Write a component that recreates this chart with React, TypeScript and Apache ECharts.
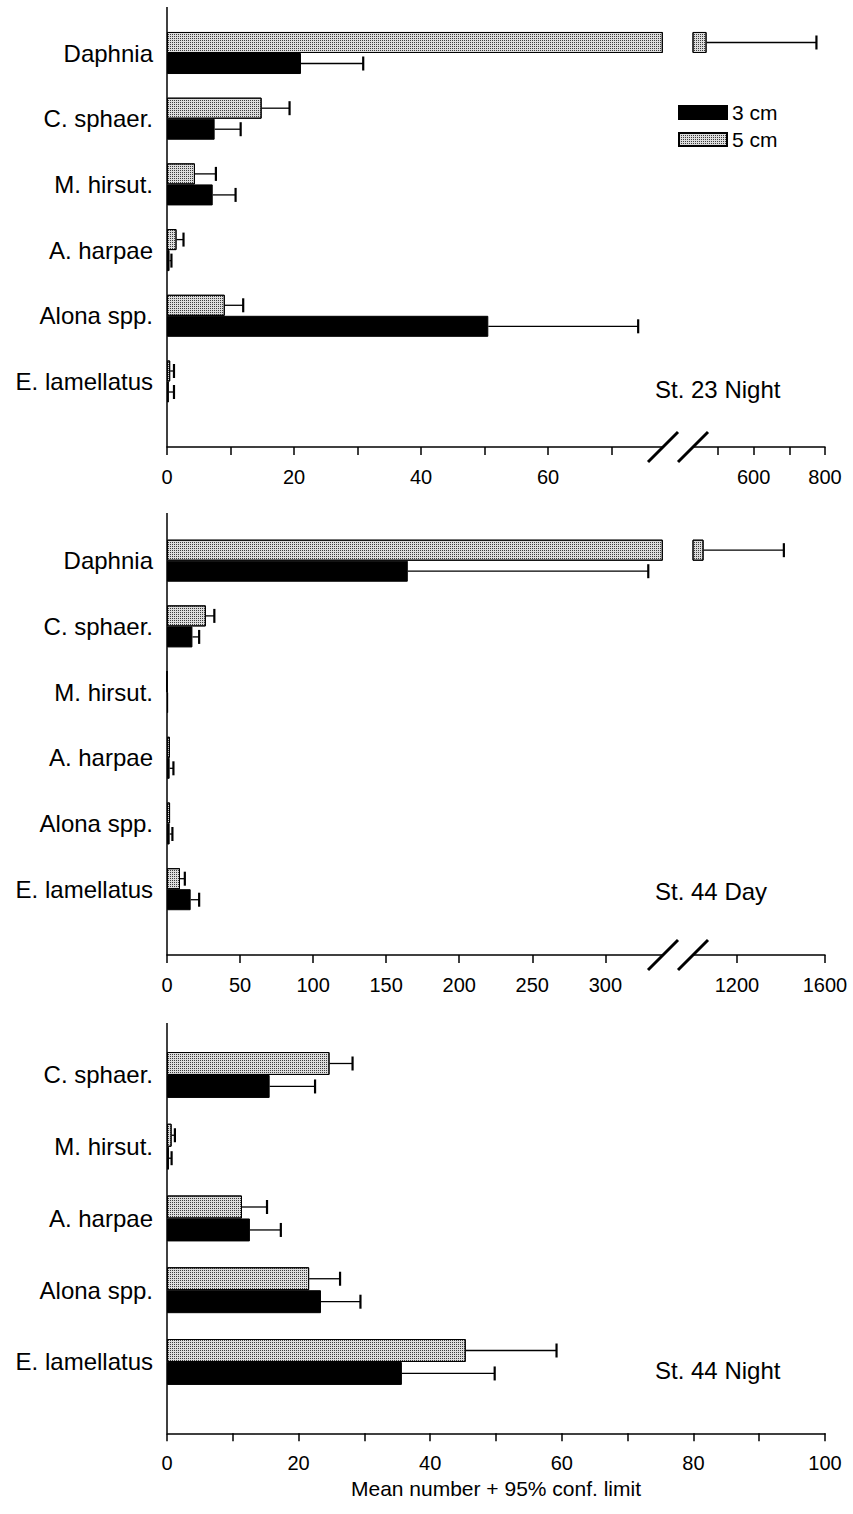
import React, { useEffect, useRef } from 'react';
import * as echarts from 'echarts';

// ---------------- DATA ----------------
const CATEGORIES_FULL = ['Daphnia', 'C. sphaer.', 'M. hirsut.', 'A. harpae', 'Alona spp.', 'E. lamellatus'];
const CATEGORIES_NIGHT44 = ['C. sphaer.', 'M. hirsut.', 'A. harpae', 'Alona spp.', 'E. lamellatus'];

const SERIES_3CM = '3 cm';
const SERIES_5CM = '5 cm';

// St. 23 Night
const ST23N_MEAN_5CM = [468, 14.9, 4.4, 1.5, 9.1, 0.5];
const ST23N_CI_5CM = [776, 19.3, 7.7, 2.6, 12.0, 1.1];
const ST23N_MEAN_3CM = [21.1, 7.5, 7.2, 0.4, 50.6, 0.3];
const ST23N_CI_3CM = [30.9, 11.6, 10.8, 0.7, 74.2, 1.1];
const ST23N_LOW_RANGE = [0, 78];
const ST23N_HIGH_RANGE = [430, 800];
const ST23N_LOW_TICKS = [0, 10, 20, 30, 40, 50, 60, 70];
const ST23N_LOW_LABELS = [0, 20, 40, 60];
const ST23N_HIGH_TICKS = [500, 600, 700, 800];
const ST23N_HIGH_LABELS = [600, 800];

// St. 44 Day
const ST44D_MEAN_5CM = [1048, 26.6, 0, 2.0, 2.1, 8.9];
const ST44D_CI_5CM = [1413, 32.4, 0, 2.0, 2.1, 12.2];
const ST44D_MEAN_3CM = [164.8, 17.4, 0.8, 1.8, 1.8, 16.2];
const ST44D_CI_3CM = [329.4, 22.0, 0.8, 4.4, 3.7, 22.0];
const ST44D_LOW_RANGE = [0, 339];
const ST44D_HIGH_RANGE = [1000, 1600];
const ST44D_LOW_TICKS = [0, 50, 100, 150, 200, 250, 300];
const ST44D_LOW_LABELS = [0, 50, 100, 150, 200, 250, 300];
const ST44D_HIGH_TICKS = [1200, 1600];
const ST44D_HIGH_LABELS = [1200, 1600];

// St. 44 Night
const ST44N_MEAN_5CM = [24.7, 0.7, 11.4, 21.6, 45.4];
const ST44N_CI_5CM = [28.2, 1.2, 15.2, 26.3, 59.2];
const ST44N_MEAN_3CM = [15.6, 0.3, 12.6, 23.4, 35.7];
const ST44N_CI_3CM = [22.5, 0.7, 17.3, 29.4, 49.8];
const ST44N_RANGE = [0, 100];
const ST44N_TICKS = [0, 10, 20, 30, 40, 50, 60, 70, 80, 90, 100];
const ST44N_LABELS = [0, 20, 40, 60, 80, 100];

const X_AXIS_TITLE = 'Mean number + 95% conf. limit';

// ---------------- LAYOUT / STYLE ----------------
const FONT = '"Liberation Sans", Arial, Helvetica, sans-serif';
const X0 = 167;
const LOW_W = 495.3;
const HIGH_X = 693;
const X1 = 825;

const DOT_FILL = {
  color: '#dcdcdc',
  borderColor: '#000',
  borderWidth: 1,
  decal: {
    symbol: 'rect',
    symbolSize: 1,
    dashArrayX: [1, 1],
    dashArrayY: [1, 1],
    color: '#3c3c3c',
    rotation: 0,
  },
};
const BLACK_FILL = { color: '#000', borderColor: '#000', borderWidth: 1 };

type Panel = {
  cats: string[];
  m5: number[]; c5: number[]; m3: number[]; c3: number[];
  low: number[]; lowTicks: number[]; lowLabels: number[];
  high?: number[]; highTicks?: number[]; highLabels?: number[];
  bandTop: number; band: number; axisTop: number; axisY: number;
  title: string; titleY: number; xName?: string;
};

const PANELS: Panel[] = [
  {
    cats: CATEGORIES_FULL, m5: ST23N_MEAN_5CM, c5: ST23N_CI_5CM, m3: ST23N_MEAN_3CM, c3: ST23N_CI_3CM,
    low: ST23N_LOW_RANGE, lowTicks: ST23N_LOW_TICKS, lowLabels: ST23N_LOW_LABELS,
    high: ST23N_HIGH_RANGE, highTicks: ST23N_HIGH_TICKS, highLabels: ST23N_HIGH_LABELS,
    bandTop: 20.15, band: 65.7, axisTop: 7, axisY: 447, title: 'St. 23 Night', titleY: 389,
  },
  {
    cats: CATEGORIES_FULL, m5: ST44D_MEAN_5CM, c5: ST44D_CI_5CM, m3: ST44D_MEAN_3CM, c3: ST44D_CI_3CM,
    low: ST44D_LOW_RANGE, lowTicks: ST44D_LOW_TICKS, lowLabels: ST44D_LOW_LABELS,
    high: ST44D_HIGH_RANGE, highTicks: ST44D_HIGH_TICKS, highLabels: ST44D_HIGH_LABELS,
    bandTop: 527.85, band: 65.7, axisTop: 513, axisY: 955, title: 'St. 44 Day', titleY: 891,
  },
  {
    cats: CATEGORIES_NIGHT44, m5: ST44N_MEAN_5CM, c5: ST44N_CI_5CM, m3: ST44N_MEAN_3CM, c3: ST44N_CI_3CM,
    low: ST44N_RANGE, lowTicks: ST44N_TICKS, lowLabels: ST44N_LABELS,
    bandTop: 1039.1, band: 71.75, axisTop: 1023, axisY: 1433.3, title: 'St. 44 Night', titleY: 1370,
    xName: X_AXIS_TITLE,
  },
];

function renderError(params: any, api: any) {
  const cat = api.value(0);
  const lo = api.value(1);
  const hi = api.value(2);
  const sign = api.value(3);
  const p0 = api.coord([lo, cat]);
  const p1 = api.coord([hi, cat]);
  const band = api.size([0, 1])[1];
  const y = p0[1] + sign * band * 0.16;
  return {
    type: 'group',
    children: [
      { type: 'line', shape: { x1: p0[0], y1: y, x2: p1[0], y2: y }, style: { stroke: '#000', lineWidth: 1.3 } },
      { type: 'line', shape: { x1: p1[0], y1: y - 7, x2: p1[0], y2: y + 7 }, style: { stroke: '#000', lineWidth: 2.2 } },
    ],
  };
}

function buildOption() {
  const grid: any[] = [];
  const xAxis: any[] = [];
  const yAxis: any[] = [];
  const series: any[] = [];
  const graphic: any[] = [];

  PANELS.forEach((p) => {
    const nBands = p.cats.length + 1;
    const height = p.band * nBands;
    const offset = p.axisY - (p.bandTop + height);
    const segs: any[] = [];
    if (p.high) {
      segs.push({ x: X0, w: LOW_W, range: p.low, ticks: p.lowTicks, labels: p.lowLabels, part: 'low' });
      segs.push({ x: HIGH_X, w: X1 - HIGH_X, range: p.high, ticks: p.highTicks, labels: p.highLabels, part: 'high' });
    } else {
      segs.push({ x: X0, w: X1 - X0, range: p.low, ticks: p.lowTicks, labels: p.lowLabels, part: 'single', name: p.xName });
    }
    segs.forEach((s) => {
      const gi = grid.length;
      grid.push({ left: s.x, top: p.bandTop, width: s.w, height, outerBoundsMode: 'none', containLabel: false });
      xAxis.push({
        type: 'value', gridIndex: gi, min: s.range[0], max: s.range[1], position: 'bottom', offset,
        axisLine: { show: true, onZero: false, lineStyle: { color: '#000', width: 1.5 } },
        axisTick: { show: true, length: 8, customValues: s.ticks, lineStyle: { color: '#000', width: 1.5 } },
        axisLabel: {
          customValues: s.labels, color: '#000', fontSize: 20, margin: 20, fontFamily: FONT,
          formatter: (v: number) => String(v),
        },
        splitLine: { show: false },
        name: s.name || '', nameLocation: 'middle', nameGap: 45,
        nameTextStyle: { color: '#000', fontSize: 21, fontFamily: FONT },
      });
      yAxis.push({
        type: 'category', gridIndex: gi, data: [...p.cats, ''], inverse: true,
        axisLine: { show: false }, axisTick: { show: false }, splitLine: { show: false },
        axisLabel: { show: s.part !== 'high', color: '#000', fontSize: 24, margin: 14, fontFamily: FONT },
      });
      const pick = (v: number) => (s.part === 'high' ? (v > p.low[1] ? v : '-') : v);
      series.push({
        type: 'bar', name: SERIES_5CM, xAxisIndex: gi, yAxisIndex: gi, barWidth: '32%', barGap: '0%',
        clip: true, itemStyle: DOT_FILL, data: p.m5.map(pick),
      });
      series.push({
        type: 'bar', name: SERIES_3CM, xAxisIndex: gi, yAxisIndex: gi, barWidth: '32%', barGap: '0%',
        clip: true, itemStyle: BLACK_FILL, data: p.m3.map(pick),
      });
      const errs: number[][] = [];
      const addErr = (means: number[], cis: number[], sign: number) => {
        means.forEach((m, i) => {
          const c = cis[i];
          if (!(c > m)) return;
          if (s.part === 'high') {
            if (m >= s.range[0]) errs.push([i, m, c, sign]);
          } else if (c <= s.range[1]) {
            errs.push([i, m, c, sign]);
          }
        });
      };
      addErr(p.m5, p.c5, -1);
      addErr(p.m3, p.c3, 1);
      series.push({
        type: 'custom', name: 'err', xAxisIndex: gi, yAxisIndex: gi, renderItem: renderError,
        encode: { x: [1, 2], y: 0 }, data: errs, z: 5,
      });
    });

    // y axis line
    graphic.push({
      type: 'line', shape: { x1: X0, y1: p.axisTop, x2: X0, y2: p.axisY },
      style: { stroke: '#000', lineWidth: 1.5 }, silent: true,
    });
    // break marks
    if (p.high) {
      [663, 693].forEach((cx) => {
        graphic.push({
          type: 'line', shape: { x1: cx - 15, y1: p.axisY + 15, x2: cx + 15, y2: p.axisY - 15 },
          style: { stroke: '#000', lineWidth: 3 }, silent: true,
        });
      });
    }
    graphic.push({
      type: 'text', x: 655, y: p.titleY,
      style: { text: p.title, fill: '#000', font: `24px ${FONT}`, textVerticalAlign: 'middle', verticalAlign: 'middle' },
      silent: true,
    });
  });

  return {
    animation: false,
    backgroundColor: '#fff',
    textStyle: { fontFamily: FONT },
    legend: {
      data: [SERIES_3CM, SERIES_5CM], orient: 'vertical', left: 673, top: 97,
      itemWidth: 48, itemHeight: 13, itemGap: 6, icon: 'rect', selectedMode: false,
      textStyle: { fontSize: 21, color: '#000', fontFamily: FONT },
    },
    grid, xAxis, yAxis, series, graphic,
  };
}

export default function App() {
  const ref = useRef<HTMLDivElement>(null);
  useEffect(() => {
    document.body.style.margin = '0';
    const chart = echarts.init(ref.current as HTMLDivElement, null, { renderer: 'svg' });
    chart.setOption(buildOption() as any);
    return () => chart.dispose();
  }, []);
  return (
    <div
      ref={ref}
      style={{ position: 'absolute', left: 0, top: 0, width: 853, height: 1514, background: '#fff' }}
    />
  );
}
